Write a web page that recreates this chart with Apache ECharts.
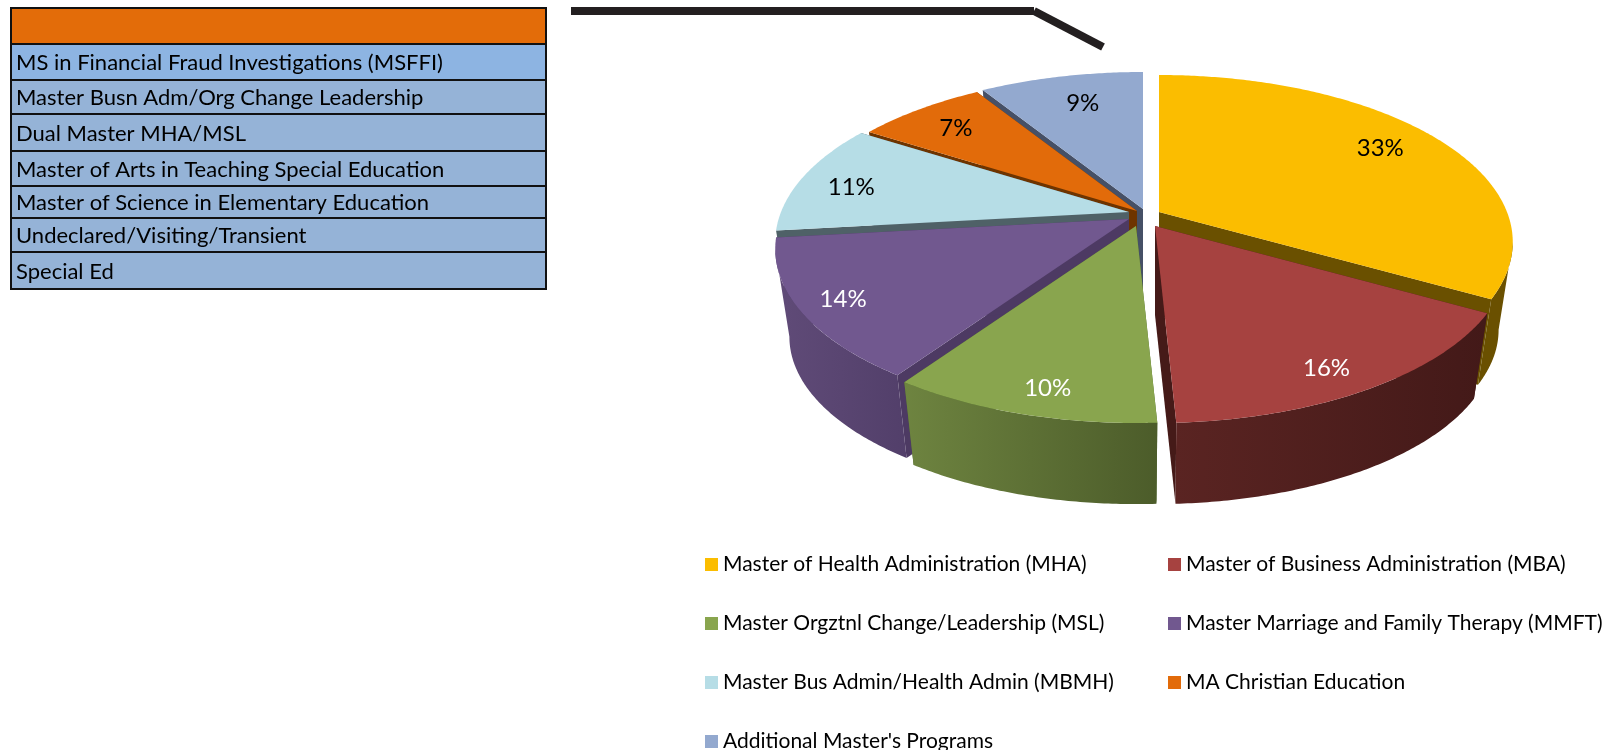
<!DOCTYPE html>
<html><head><meta charset="utf-8">
<style>html,body{margin:0;padding:0;background:#fff}#c{width:1608px;height:750px}</style>
<script src="https://cdn.jsdelivr.net/npm/echarts@6/dist/echarts.min.js"></script>
</head><body><div id="c"></div>
<script>
// ---- data ----
const programs = ["Master of Health Administration (MHA)","Master of Business Administration (MBA)","Master Orgztnl Change/Leadership (MSL)","Master Marriage and Family Therapy (MMFT)","Master Bus Admin/Health Admin (MBMH)","MA Christian Education","Additional Master's Programs"];
const shares = [33.2,16.0,10.4,13.6,10.8,7.1,8.9];
const tableRows = ["MS in Financial Fraud Investigations (MSFFI)","Master Busn Adm/Org Change Leadership","Dual Master MHA/MSL","Master of Arts in Teaching Special Education","Master of Science in Elementary Education","Undeclared/Visiting/Transient","Special Ed"];
// ---- styles ----
const topColors = ["#FBBD00","#A64240","#89A54E","#71588F","#B6DDE6","#E26B0A","#93A9CF"];
const sideColors = ["#6A5000","#451A18","#4F6B2E","#4D3A63","#4F6167","#6E3400","#465066"];
const arcGradients = [["#6A5000","#6A5000"],["#5A2422","#431918"],["#6E8440","#4C5C2A"],["#604B78","#523F6A"],["#4F6167","#4F6167"],["#6E3400","#6E3400"],["#465066","#465066"]];
const labelColors = ["#000","#fff","#fff","#fff","#000","#000","#000"];
// ---- layout of the 3-D pie ----
const apexX = [1159,1155,1136,1129,1129,1137,1143];
const apexY = [212,226,226,219,212,211,209];
const labelR = [0.80,0.85,0.87,0.88,0.85,0.80,0.77];
const labelNudgeX = [-3,-7,9,0,1,-3,5];
const labelNudgeY = [-3,8,3,1,5,0,0];
const RX = 348, RY = 161.6, PERSP = 0.1796, BASE_SCALE = 0.96, BASE_DROP = 89;
const drawOrder = [6,5,4,0,3,2,1];
const rowEdges = [8,44,80,114,151,186,218,252,289];
const rowFills = ["#E36C09","#8DB4E2","#95B3D7","#95B3D7","#95B3D7","#95B3D7","#95B3D7","#95B3D7"];
const FONT = "Lato";

const total = shares.reduce((a,b)=>a+b,0);
const starts = []; { let s=0; shares.forEach(v=>{starts.push(s); s+=v;}); }
const ang = p => p/total*2*Math.PI;
function project(i,r,th,base){
  const u=r*Math.sin(th), v=r*Math.cos(th), d=1+PERSP*v, s=base?BASE_SCALE:1;
  return [apexX[i]+s*RX*u/d, apexY[i]+(base?BASE_DROP:0)-s*RY*v/d];
}
function arcPts(i,a0,a1,base){
  const n=Math.max(2,Math.ceil((a1-a0)/0.01)),o=[];
  for(let k=0;k<=n;k++)o.push(project(i,1,a0+(a1-a0)*k/n,base));
  return o;
}
function renderSlice(params,api){
  const i=api.value(0), val=api.value(1);
  const a0=ang(starts[i]), a1=a0+ang(val), kids=[];
  const side=[a0,a1].map(a=>({type:'polygon',shape:{points:[project(i,0,0,false),project(i,1,a,false),project(i,1,a,true),project(i,0,0,true)]},style:{fill:sideColors[i]}}));
  kids.push(...side);
  // outer wall: only the part of the rim that faces the viewer
  const limA=Math.PI-Math.acos(PERSP), limB=Math.PI+Math.acos(PERSP);
  const f0=Math.max(a0,limA), f1=Math.min(a1,limB);
  if(f1>f0){
    const g=arcGradients[i];
    kids.push({type:'polygon',shape:{points:arcPts(i,f0,f1,false).concat(arcPts(i,f0,f1,true).reverse())},
      style:{fill:{type:'linear',x:0,y:0,x2:1,y2:0,colorStops:[{offset:0,color:g[0]},{offset:1,color:g[1]}]}}});
  }
  kids.push({type:'polygon',shape:{points:[project(i,0,0,false)].concat(arcPts(i,a0,a1,false))},style:{fill:topColors[i]}});
  const lp=project(i,labelR[i],a0+ang(val)/2,false);
  kids.push({type:'text',x:lp[0]+labelNudgeX[i],y:lp[1]+labelNudgeY[i],z2:10,style:{text:Math.round(val/total*100)+'%',fill:labelColors[i],font:'24px '+FONT,align:'center',verticalAlign:'middle'}});
  return {type:'group',children:kids};
}
const series = drawOrder.map(i=>({
  type:'custom',name:programs[i],coordinateSystem:'none',renderItem:renderSlice,
  itemStyle:{color:topColors[i]},data:[[i,shares[i]]],silent:true,animation:false
}));
// ---- table ----
const graphics=[];
rowFills.forEach((f,r)=>{
  graphics.push({type:'rect',shape:{x:11,y:rowEdges[r],width:535,height:rowEdges[r+1]-rowEdges[r]},style:{fill:f,stroke:'#111',lineWidth:2}});
  if(r>0) graphics.push({type:'text',x:16,y:(rowEdges[r]+rowEdges[r+1])/2+1,style:{text:tableRows[r-1],fill:'#000',font:'22px '+FONT,verticalAlign:'middle',align:'left'}});
});
graphics.push({type:'line',shape:{x1:571,y1:11,x2:1034,y2:11},style:{stroke:'#231F20',lineWidth:8}});
graphics.push({type:'line',shape:{x1:1034,y1:11,x2:1103,y2:47},style:{stroke:'#231F20',lineWidth:8}});
const legendBase={orient:'vertical',icon:'rect',itemWidth:13,itemHeight:13,itemGap:38,padding:0,selectedMode:false,height:300,
  textStyle:{fontFamily:FONT,fontSize:21,color:'#000'}};
const chart=echarts.init(document.getElementById('c'),null,{renderer:'canvas'});
chart.setOption({animation:false,backgroundColor:'#fff',
  legend:[
    Object.assign({},legendBase,{left:705,top:554,data:[0,2,4,6].map(i=>programs[i])}),
    Object.assign({},legendBase,{left:1168,top:554,data:[1,3,5].map(i=>programs[i])})
  ],
  graphic:{elements:graphics},series});
</script></body></html>
